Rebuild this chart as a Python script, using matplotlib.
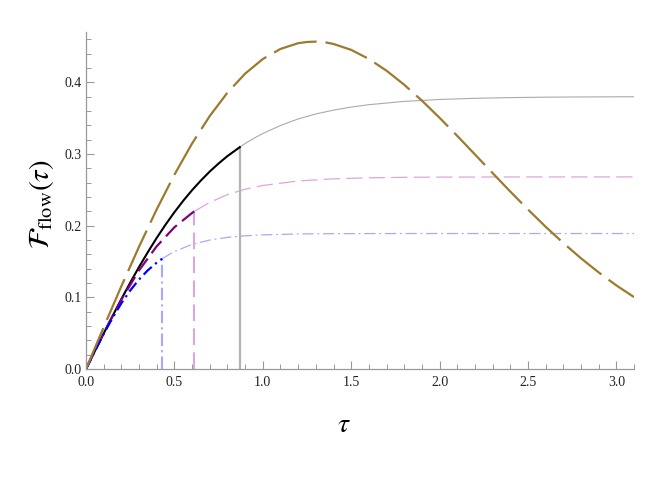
import numpy as np
import matplotlib
matplotlib.use("Agg")
import matplotlib.pyplot as plt
from matplotlib.ticker import MultipleLocator

plt.rcParams['mathtext.fontset'] = 'stix'
plt.rcParams['font.family'] = ['Liberation Serif', 'DejaVu Serif']

# --- data ---
# reference curve (olive, long dashes)
tau_ref = [0.0, 0.1, 0.2, 0.3, 0.4, 0.5, 0.6, 0.7, 0.8, 0.9, 1.0, 1.1, 1.2, 1.25,
           1.3, 1.35, 1.4, 1.5, 1.6, 1.7, 1.8, 1.9, 2.0, 2.1, 2.2, 2.3, 2.4, 2.5,
           2.6, 2.7, 2.8, 2.9, 3.0, 3.1]
f_ref = [0.0, 0.0583, 0.1155, 0.1706, 0.2227, 0.2710, 0.3146, 0.3529, 0.3855,
         0.4120, 0.4324, 0.4465, 0.4545, 0.4562, 0.4567, 0.4559, 0.4534, 0.4452,
         0.4325, 0.4161, 0.3965, 0.3744, 0.3504, 0.3252, 0.2993, 0.2733, 0.2475,
         0.2225, 0.1984, 0.1757, 0.1544, 0.1347, 0.1166, 0.1003]

# black curve up to its cut, then grey continuation
tau_black = [0.0, 0.05, 0.1, 0.15, 0.2, 0.25, 0.3, 0.35, 0.4, 0.45, 0.5, 0.55,
             0.6, 0.65, 0.7, 0.75, 0.8, 0.87]
f_black = [0.0, 0.0249, 0.0496, 0.0738, 0.0975, 0.1204, 0.1423, 0.1631, 0.1829,
           0.2014, 0.2187, 0.2347, 0.2495, 0.2630, 0.2755, 0.2867, 0.2970, 0.3095]
tau_grey = [0.87, 0.9, 0.95, 1.0, 1.1, 1.2, 1.3, 1.4, 1.5, 1.6, 1.8, 2.0, 2.2,
            2.4, 2.6, 2.8, 3.1]
f_grey = [0.3095, 0.3145, 0.3219, 0.3285, 0.3397, 0.3488, 0.3558, 0.3611,
          0.3654, 0.3687, 0.3733, 0.3760, 0.3776, 0.3786, 0.3792, 0.3795, 0.3798]

# purple curve, then light pink continuation
tau_purple = [0.0, 0.05, 0.1, 0.2, 0.3, 0.4, 0.5, 0.6, 0.613]
f_purple = [0.0, 0.0253, 0.0501, 0.0968, 0.1376, 0.1712, 0.1977, 0.2177, 0.2199]
tau_pink = [0.613, 0.7, 0.8, 0.9, 1.0, 1.2, 1.4, 1.6, 1.8, 2.0, 2.4, 3.1]
f_pink = [0.2199, 0.2325, 0.2432, 0.2508, 0.2560, 0.2623, 0.2653, 0.2667,
          0.2674, 0.2677, 0.2679, 0.2680]

# blue curve, then light blue continuation
tau_blue = [0.0, 0.05, 0.1, 0.15, 0.2, 0.25, 0.3, 0.35, 0.4, 0.431]
f_blue = [0.0, 0.0249, 0.0489, 0.0713, 0.0917, 0.1095, 0.1249, 0.1378, 0.1484,
          0.1539]
tau_lblue = [0.431, 0.5, 0.6, 0.7, 0.8, 0.9, 1.0, 1.2, 1.4, 1.8, 3.1]
f_lblue = [0.1539, 0.1640, 0.1738, 0.1799, 0.1836, 0.1858, 0.1871, 0.1884,
           0.1888, 0.1890, 0.1890]

fig = plt.figure(figsize=(6.49, 4.86), dpi=100)
ax = fig.add_axes([0.1325, 0.2407, 0.8445, 0.6933])

# light continuations
ax.plot(tau_grey, f_grey, color='#aaaaaa', lw=0.8)
ax.plot(tau_pink, f_pink, color='#dda6dd', lw=0.9, dashes=(13, 5))
ax.plot(tau_lblue, f_lblue, color='#a8a8ff', lw=0.9, dashes=(9, 3, 1.5, 3))

# vertical markers
ax.plot([tau_black[-1], tau_black[-1]], [0, f_black[-1]], color='#b4b4b4', lw=1.6)
ax.plot([tau_purple[-1], tau_purple[-1]], [0, f_purple[-1]], color='#dda6dd',
        lw=1.5, dashes=(8, 3.5))
ax.plot([tau_blue[-1], tau_blue[-1]], [0, f_blue[-1]], color='#a8a8ff',
        lw=1.5, dashes=(6, 2, 1, 2))

# main curves
ax.plot(tau_black, f_black, color='black', lw=1.5)
ax.plot(tau_purple, f_purple, color='#800080', lw=1.6, dashes=(7, 3))
ax.plot(tau_blue, f_blue, color='#0000ff', lw=1.6, dashes=(5, 2, 1, 2))
ax.plot(tau_ref, f_ref, color='#9c7b2f', lw=1.6, dashes=(20, 4))

ax.set_xlim(0, 3.1)
ax.set_ylim(0, 0.47)

for s in ['top', 'right']:
    ax.spines[s].set_visible(False)
for s in ['left', 'bottom']:
    ax.spines[s].set_color('#999999')
    ax.spines[s].set_linewidth(0.9)

ax.xaxis.set_major_locator(MultipleLocator(0.5))
ax.xaxis.set_minor_locator(MultipleLocator(0.1))
ax.yaxis.set_major_locator(MultipleLocator(0.1))
ax.yaxis.set_minor_locator(MultipleLocator(0.02))
ax.xaxis.set_major_formatter(plt.FuncFormatter(lambda v, p: f"{v:.1f}"))
ax.yaxis.set_major_formatter(plt.FuncFormatter(lambda v, p: f"{v:.1f}"))
ax.tick_params(which='major', direction='in', length=6, width=0.8,
               color='#999999', labelsize=10, labelcolor='#222222', pad=3)
ax.tick_params(axis='x', which='major', pad=5)
ax.tick_params(which='minor', direction='in', length=3.5, width=0.7,
               color='#999999')

ax.set_xlabel(r'$\tau$', fontsize=20)
ax.set_ylabel(r'$\mathcal{F}_{\rm flow}(\tau)$', fontsize=21)
ax.xaxis.set_label_coords(0.47, -0.13)
ax.yaxis.set_label_coords(-0.055, 0.49)

fig.savefig('out.png', dpi=100)
